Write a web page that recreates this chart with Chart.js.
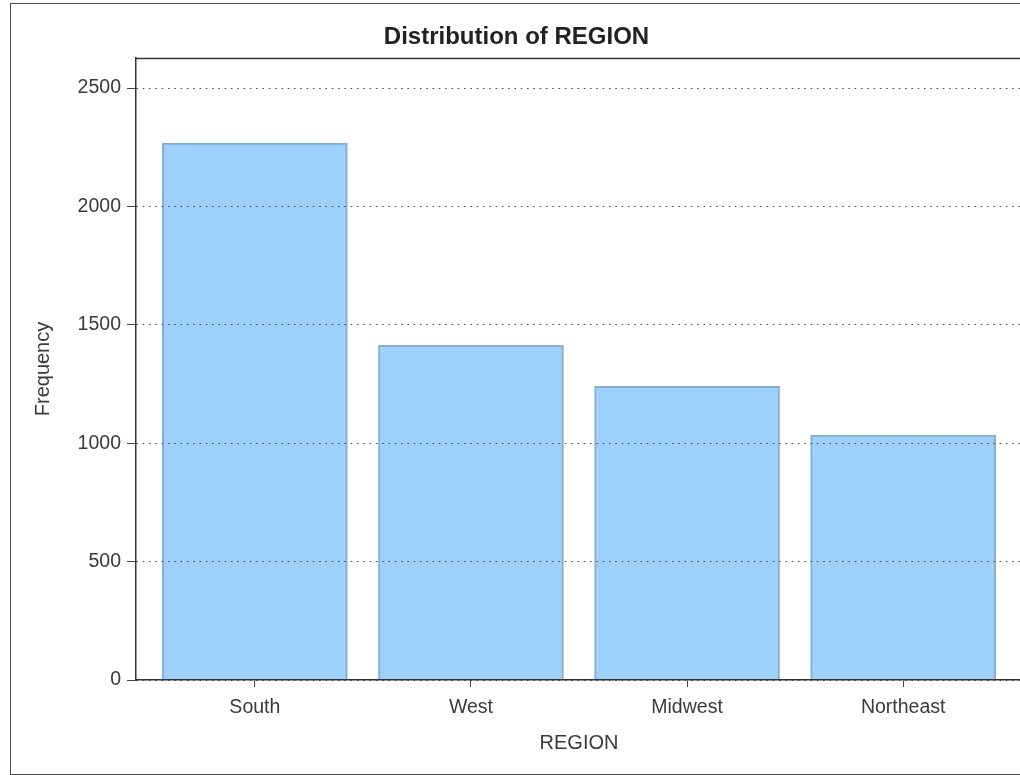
<!DOCTYPE html>
<html lang="en">
<head>
    <meta charset="UTF-8">
    <title>Distribution of REGION</title>
    <script src="https://cdn.jsdelivr.net/npm/chart.js"></script>
    <style>
        body { margin: 0; background: #fff; overflow: hidden; }
        #frame {
            position: absolute; left: 10px; top: 3px;
            width: 1200px; height: 770px;
            border: 1px solid #4a4a4a;
        }
        #regionChart { position: absolute; left: 0; top: 0; }
    </style>
</head>
<body>
    <div id="frame">
        <canvas id="regionChart" width="1134" height="769"></canvas>
    </div>

    <script>
        const categories = ['South', 'West', 'Midwest', 'Northeast'];
        const frequencies = [2268, 1413, 1240, 1034];
        const yTicks = [0, 500, 1000, 1500, 2000, 2500];

        const textColor = '#3a3a3a';
        const fontFamily = '"Liberation Sans", Arial, sans-serif';

        // top edge of the plot box
        const plotFrame = {
            id: 'plotFrame',
            afterDraw(chart) {
                const { ctx, chartArea } = chart;
                ctx.save();
                ctx.strokeStyle = '#333';
                ctx.lineWidth = 1.5;
                ctx.beginPath();
                ctx.moveTo(chartArea.left, chartArea.top + 0.5);
                ctx.lineTo(chart.width, chartArea.top + 0.5);
                ctx.stroke();
                ctx.restore();
            }
        };

        new Chart(document.getElementById('regionChart'), {
            type: 'bar',
            data: {
                datasets: [{
                    label: 'Frequency',
                    data: categories.map((c, i) => ({ x: i, y: frequencies[i] })),
                    backgroundColor: '#9dd0fb',
                    borderColor: '#86aecf',
                    borderWidth: 2,
                    barThickness: 185
                }]
            },
            options: {
                responsive: false,
                animation: false,
                layout: { padding: { left: 0, top: 0, right: 123, bottom: 0 } },
                plugins: {
                    legend: { display: false },
                    tooltip: { enabled: false },
                    title: {
                        display: true,
                        text: 'Distribution of REGION',
                        color: '#222',
                        font: { family: fontFamily, size: 24, weight: 'bold' },
                        padding: { top: 19, bottom: 6.2 }
                    }
                },
                scales: {
                    x: {
                        type: 'linear',
                        position: 'bottom',
                        offset: false,
                        min: -0.55,
                        max: 3.55,
                        afterFit(scale) { scale.height = 93; },
                        afterBuildTicks(scale) {
                            scale.ticks = categories.map((c, i) => ({ value: i }));
                        },
                        ticks: {
                            color: textColor,
                            padding: 9,
                            font: { family: fontFamily, size: 19.5 },
                            callback: (v) => categories[v]
                        },
                        grid: {
                            offset: false,
                            drawOnChartArea: false,
                            drawTicks: true,
                            tickLength: 7,
                            tickColor: '#444',
                            tickWidth: 1
                        },
                        border: { display: true, color: '#333', width: 1.5, z: 2 },
                        title: {
                            display: true,
                            text: 'REGION',
                            color: textColor,
                            font: { family: fontFamily, size: 20 },
                            padding: { top: 0, bottom: 18 }
                        }
                    },
                    y: {
                        min: 0,
                        max: 2627,
                        afterFit(scale) { scale.width = 125; },
                        afterBuildTicks(scale) {
                            scale.ticks = yTicks.map(v => ({ value: v }));
                        },
                        ticks: {
                            color: textColor,
                            padding: 6,
                            font: { family: fontFamily, size: 19.5 },
                            callback: (v) => String(v)
                        },
                        grid: {
                            z: 1,
                            color: '#444',
                            lineWidth: 1,
                            drawTicks: true,
                            tickLength: 9,
                            tickColor: '#444',
                            tickWidth: 1,
                            tickBorderDash: []
                        },
                        border: { display: true, color: '#333', width: 1.5, dash: [1.5, 4.8], z: 2 },
                        title: {
                            display: true,
                            text: 'Frequency',
                            color: textColor,
                            font: { family: fontFamily, size: 20 },
                            padding: { top: 20, bottom: 0 }
                        }
                    }
                }
            },
            plugins: [plotFrame]
        });
    </script>
</body>
</html>
